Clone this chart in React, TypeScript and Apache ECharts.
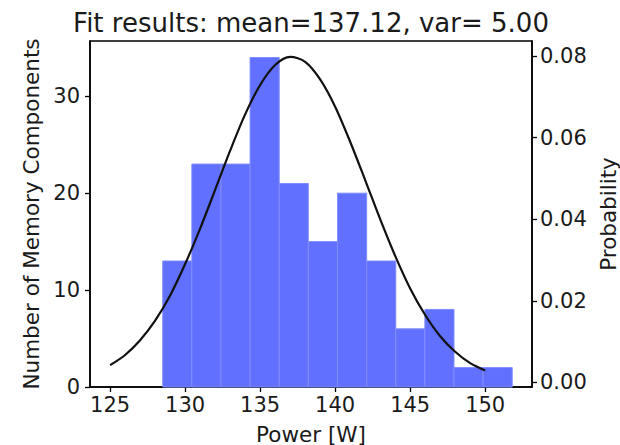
import React, { useEffect, useRef } from "react";
import * as echarts from "echarts";

const binEdges = [128.51, 130.45, 132.39, 134.33, 136.27, 138.21, 140.16, 142.1, 144.04, 145.98, 147.92, 149.86, 151.8];
const counts = [13, 23, 23, 34, 21, 15, 20, 13, 6, 8, 2, 2];
const curveX = [125, 126, 127, 128, 129, 130, 131, 132, 133, 134, 135, 136, 137, 138, 139, 140, 141, 142, 143, 144, 145, 146, 147, 148, 149, 150];
const curveY = [0.0042, 0.0067, 0.0103, 0.0151, 0.0213, 0.029, 0.0377, 0.0472, 0.0568, 0.0657, 0.0729, 0.0778, 0.0798, 0.0786, 0.0743, 0.0676, 0.059, 0.0496, 0.04, 0.031, 0.023, 0.0165, 0.0113, 0.0075, 0.0047, 0.0029];
const xTicks = [125, 130, 135, 140, 145, 150];
const leftTicks = [0, 10, 20, 30];
const rightTicks = [0, 0.02, 0.04, 0.06, 0.08];
const titleText = "Fit results: mean=137.12, var= 5.00";

const FONT = "DejaVu Sans";
const TEXT = "#1a1a1a";

export default function App() {
  const ref = useRef<HTMLDivElement>(null);
  useEffect(() => {
    if (!ref.current) return;
    const chart = echarts.init(ref.current, undefined, { renderer: "svg" });
    const histData = counts.map((c, i) => [binEdges[i], binEdges[i + 1], c]);
    const axisLine = { show: true, lineStyle: { color: "#000", width: 1.5 } };
    const axisTick = { show: true, length: 5, lineStyle: { color: "#000", width: 1.3 } };
    chart.setOption({
      animation: false,
      backgroundColor: "#fff",
      graphic: [
        {
          type: "text",
          x: 311,
          y: 22.5,
          style: {
            text: titleText,
            fontFamily: FONT,
            fontSize: 26,
            fill: TEXT,
            textAlign: "center",
            textVerticalAlign: "middle",
            verticalAlign: "middle",
          },
        },
      ],
      grid: {
        left: 90,
        right: 88,
        top: 41,
        bottom: 58,
        show: true,
        borderColor: "#000",
        borderWidth: 1.5,
        containLabel: false,
        outerBoundsMode: "none",
      },
      xAxis: {
        type: "value",
        min: 123.66,
        max: 153.12,
        name: "Power [W]",
        nameLocation: "middle",
        nameGap: 36,
        nameTextStyle: { fontFamily: FONT, fontSize: 21.5, color: TEXT },
        axisLine,
        axisTick: { ...axisTick, customValues: xTicks },
        axisLabel: { customValues: xTicks, fontFamily: FONT, fontSize: 21, color: TEXT, margin: 7 },
        splitLine: { show: false },
      },
      yAxis: [
        {
          type: "value",
          min: 0,
          max: 35.7,
          position: "left",
          name: "Number of Memory Components",
          nameLocation: "middle",
          nameGap: 46,
          nameTextStyle: { fontFamily: FONT, fontSize: 21.5, color: TEXT },
          axisLine,
          axisTick: { ...axisTick, customValues: leftTicks },
          axisLabel: { customValues: leftTicks, fontFamily: FONT, fontSize: 21, color: TEXT, margin: 10 },
          splitLine: { show: false },
        },
        {
          type: "value",
          min: -0.00115,
          max: 0.0837,
          position: "right",
          name: "Probability",
          nameLocation: "middle",
          nameRotate: 90,
          nameGap: 63,
          nameTextStyle: { fontFamily: FONT, fontSize: 21.5, color: TEXT },
          axisLine,
          axisTick: { ...axisTick, customValues: rightTicks },
          axisLabel: {
            customValues: rightTicks,
            fontFamily: FONT,
            fontSize: 21,
            color: TEXT,
            margin: 8,
            formatter: (v: number) => v.toFixed(2),
          },
          splitLine: { show: false },
        },
      ],
      series: [
        {
          type: "custom",
          xAxisIndex: 0,
          yAxisIndex: 0,
          data: histData,
          encode: { x: [0, 1], y: 2 },
          renderItem: (params: any, api: any) => {
            const x0 = api.value(0);
            const x1 = api.value(1);
            const h = api.value(2);
            const p0 = api.coord([x0, h]);
            const p1 = api.coord([x1, 0]);
            return {
              type: "rect",
              shape: { x: p0[0], y: p0[1], width: p1[0] - p0[0], height: p1[1] - p0[1] },
              style: { fill: "#6270ff", stroke: "#7f8bff", lineWidth: 1 },
            };
          },
          z: 1,
        },
        {
          type: "line",
          xAxisIndex: 0,
          yAxisIndex: 1,
          data: curveX.map((x, i) => [x, curveY[i]]),
          smooth: 0.3,
          showSymbol: false,
          symbol: "none",
          lineStyle: { color: "#111", width: 2.2 },
          z: 3,
        },
      ],
    });
    return () => chart.dispose();
  }, []);
  return <div ref={ref} style={{ width: 620, height: 445, position: "absolute", left: 0, top: 0 }} />;
}
